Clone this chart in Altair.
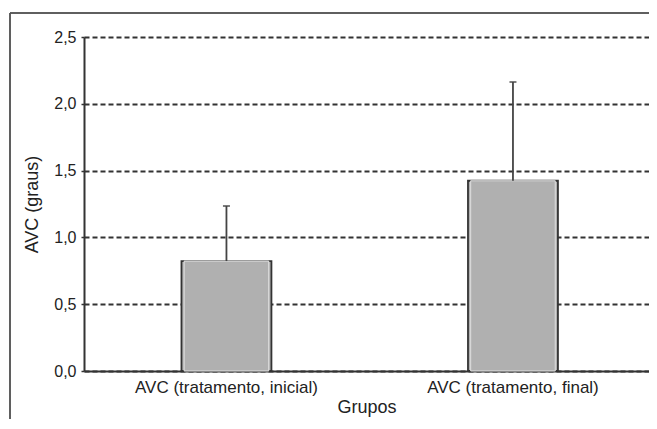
import altair as alt
import pandas as pd

groups = ["AVC (tratamento, inicial)", "AVC (tratamento, final)"]
means = [0.823, 1.424]
errors = [0.412, 0.739]

df = pd.DataFrame({"grupo": groups, "media": means, "erro": errors})
df["topo"] = df["media"] + df["erro"]

FONT = "Liberation Sans"
W, H = 565, 334

xscale = alt.Scale(paddingInner=0.686, paddingOuter=0.329, align=0.517)
xaxis = alt.Axis(labelAngle=0, ticks=False, grid=False, titlePadding=3, labelPadding=8,
                 labelLimit=400,
                 labelFont=FONT, titleFont=FONT, labelFontSize=17, titleFontSize=18,
                 titleFontWeight="normal", labelColor="#222222", titleColor="#222222",
                 domainColor="#333333", domainWidth=2)
yscale = alt.Scale(domain=[0, 2.5], nice=False)
yaxis = alt.Axis(values=[0, 0.5, 1.0, 1.5, 2.0, 2.5],
                 labelExpr="replace(format(datum.value, '.1f'), '.', ',')",
                 grid=True, gridDash=[5, 3], gridColor="#333333", gridWidth=1.8,
                 tickSize=3, labelPadding=5, titlePadding=12,
                 labelFont=FONT, titleFont=FONT, labelFontSize=16, titleFontSize=18,
                 titleFontWeight="normal", labelColor="#222222", titleColor="#222222",
                 domainColor="#333333", domainWidth=2, tickColor="#333333", tickWidth=1.5)

xenc = alt.X("grupo:N", sort=groups, title="Grupos", scale=xscale, axis=xaxis)
yenc = alt.Y("media:Q", scale=yscale, axis=yaxis, title="AVC (graus)")

base = alt.Chart(df)
bars = base.mark_bar(color="#b0b0b0", stroke="#333333", strokeWidth=1.8).encode(x=xenc, y=yenc)
inner = base.mark_bar(color="#b0b0b0", stroke="#e0e0e0", strokeWidth=1,
                      width={"band": 0.94}).encode(x=xenc, y=yenc)
err = base.mark_rule(color="#444444", strokeWidth=1.8).encode(x=xenc, y=yenc, y2="topo:Q")
cap = base.mark_tick(color="#444444", size=7, thickness=2).encode(
    x=xenc, y=alt.Y("topo:Q", scale=yscale, axis=yaxis, title="AVC (graus)"))
frame_top = base.mark_rule(color="#555555", strokeWidth=1.5, clip=False).encode(
    x=alt.value(-74), x2=alt.value(W), y=alt.value(-24))
frame_left = base.mark_rule(color="#555555", strokeWidth=1.5, clip=False).encode(
    x=alt.value(-74), y=alt.value(-24), y2=alt.value(H + 48))

chart = alt.layer(bars, inner, err, cap, frame_top, frame_left).properties(
    width=W, height=H,
    autosize=alt.AutoSizeParams(type="none"),
    padding={"left": 76, "top": 29, "right": 0, "bottom": 48},
    background="white",
).configure_view(stroke=None)

chart.save("out.html", embed_options={"renderer": "svg", "actions": False})
